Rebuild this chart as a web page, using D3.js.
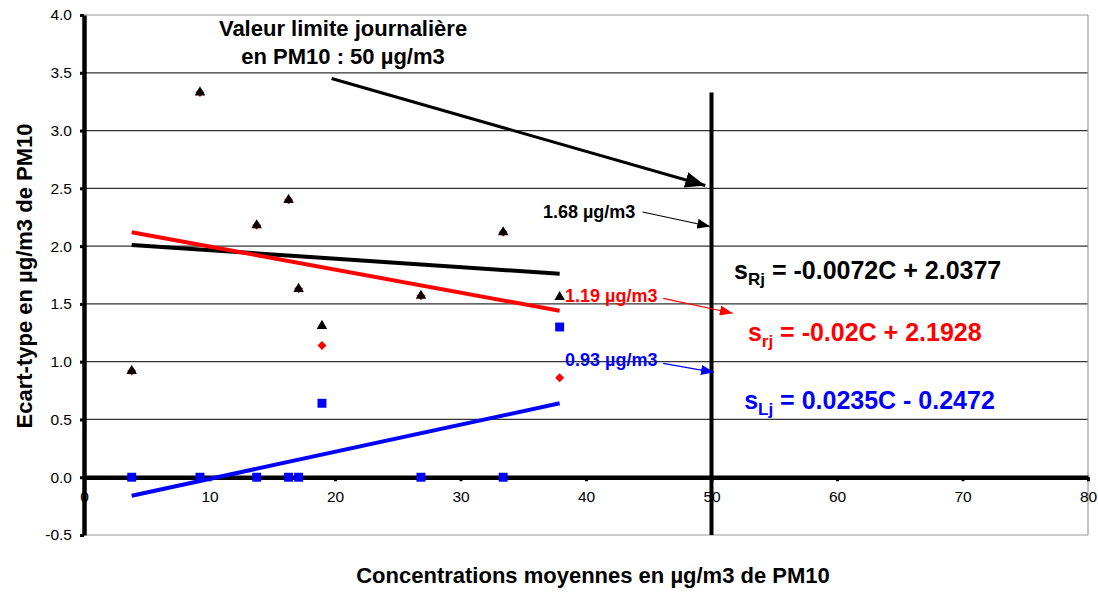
<!DOCTYPE html>
<meta charset="utf-8">
<script src="https://d3js.org/d3.v7.min.js"></script>
<style>
  body { margin: 0; background: #fff; }
  text { font-family: Arial, "Liberation Sans", sans-serif; }
</style>
<svg id="chart" width="1098" height="592"></svg>
<script>

// mean concentration (x) for each site
var conc = [3.8, 9.24, 13.76, 16.3, 17.1, 18.96, 26.85, 33.4, 37.9];
// sRj (black triangles), srj (red diamonds), sLj (blue squares)
var sRj = [0.92, 3.33, 2.18, 2.40, 1.63, 1.31, 1.57, 2.12, 1.56];
var srj = [0.92, 3.33, 2.18, 2.40, 1.63, 1.14, 1.57, 2.12, 0.86];
var sLj = [0, 0, 0, 0, 0, 0.64, 0, 0, 1.30];

// trend line ends (x from 3.8 to 37.9)
var trendX = [3.8, 37.9];
var trendR = [2.01, 1.76];
var trendr = [2.12, 1.44];
var trendL = [-0.16, 0.64];

var xTicks = [0, 10, 20, 30, 40, 50, 60, 70, 80];
var yTicks = [-0.5, 0, 0.5, 1.0, 1.5, 2.0, 2.5, 3.0, 3.5, 4.0];

var svg = d3.select("#chart");

var x = d3.scaleLinear().domain([0, 80]).range([84, 1088]);
var y = d3.scaleLinear().domain([-0.5, 4]).range([535, 15]);

// arrow heads
var defs = svg.append("defs");
function arrowHead(id, color, len, wid) {
  defs.append("marker")
    .attr("id", id)
    .attr("markerUnits", "userSpaceOnUse")
    .attr("viewBox", "0 0 " + len + " " + wid)
    .attr("refX", len).attr("refY", wid / 2)
    .attr("markerWidth", len).attr("markerHeight", wid)
    .attr("orient", "auto")
    .append("path")
      .attr("d", "M0,0 L" + len + "," + (wid / 2) + " L0," + wid + " Z")
      .attr("fill", color);
}
arrowHead("bigBlack", "#000", 20, 16);
arrowHead("black", "#000", 13, 10);
arrowHead("red", "#ff0000", 13, 10);
arrowHead("blue", "#0000ff", 13, 10);

// grid lines
svg.append("g")
  .selectAll("line")
  .data(yTicks.filter(function(d) { return d !== 0; }))
  .enter()
  .append("line")
    .attr("x1", x(0)).attr("x2", x(80))
    .attr("y1", function(d) { return y(d); })
    .attr("y2", function(d) { return y(d); })
    .attr("stroke", function(d) { return (d === 4 || d === -0.5) ? "#999" : "#333"; })
    .attr("stroke-width", 1.2);

// right border
svg.append("line")
  .attr("x1", x(80)).attr("x2", x(80))
  .attr("y1", y(4)).attr("y2", y(-0.5))
  .attr("stroke", "#999").attr("stroke-width", 1.2);

// x axis on the 0 line
var xAxis = svg.append("g")
  .attr("transform", "translate(0," + y(0) + ")")
  .call(d3.axisBottom(x).tickValues(xTicks).tickSize(4).tickSizeOuter(0).tickPadding(10));
xAxis.select(".domain").attr("stroke", "#000").attr("stroke-width", 4.5);
xAxis.selectAll(".tick line").attr("stroke", "#000").attr("stroke-width", 3);
xAxis.selectAll(".tick text")
  .attr("font-size", 15.5).attr("font-family", "Arial, 'Liberation Sans', sans-serif").attr("fill", "#000");

// y axis (plain hyphen for the minus sign, as in Excel)
var yAxis = svg.append("g")
  .attr("transform", "translate(" + x(0) + ",0)")
  .call(d3.axisLeft(y).tickValues(yTicks)
    .tickFormat(function(d) { return d.toFixed(1); })
    .tickSize(4).tickSizeOuter(0).tickPadding(8));
yAxis.select(".domain").attr("stroke", "#000").attr("stroke-width", 4.5);
yAxis.selectAll(".tick line").attr("stroke", "#000").attr("stroke-width", 3);
yAxis.selectAll(".tick text")
  .attr("font-size", 15.5).attr("font-family", "Arial, 'Liberation Sans', sans-serif").attr("fill", "#000");

// axis titles
svg.append("text")
  .attr("x", 593).attr("y", 583)
  .attr("text-anchor", "middle")
  .attr("font-size", 22).attr("font-weight", "bold")
  .text("Concentrations moyennes en µg/m3 de PM10");

svg.append("text")
  .attr("transform", "translate(32,276) rotate(-90)")
  .attr("text-anchor", "middle")
  .attr("font-size", 22).attr("font-weight", "bold")
  .text("Ecart-type en µg/m3 de PM10");

// limit value line at 50 µg/m3
svg.append("line")
  .attr("x1", x(50)).attr("x2", x(50))
  .attr("y1", y(3.33)).attr("y2", y(-0.5))
  .attr("stroke", "#000").attr("stroke-width", 4);

// trend lines
var line = d3.line()
  .x(function(d) { return x(d[0]); })
  .y(function(d) { return y(d[1]); });

[[trendR, "#000"], [trendr, "#ff0000"], [trendL, "#0000ff"]].forEach(function(t) {
  svg.append("path")
    .datum(trendX.map(function(v, i) { return [v, t[0][i]]; }))
    .attr("d", line)
    .attr("fill", "none")
    .attr("stroke", t[1])
    .attr("stroke-width", 4);
});

// markers
function drawSeries(values, symbol, size, color, rot) {
  svg.append("g")
    .selectAll("path")
    .data(conc.map(function(c, i) { return [c, values[i]]; }))
    .enter()
    .append("path")
      .attr("transform", function(d) {
        return "translate(" + x(d[0]) + "," + y(d[1]) + ") rotate(" + rot + ")";
      })
      .attr("d", d3.symbol().type(symbol).size(size))
      .attr("fill", color);
}
drawSeries(srj, d3.symbolSquare, 40, "#ff0000", 45);
drawSeries(sRj, d3.symbolTriangle, 48, "#000", 0);
drawSeries(sLj, d3.symbolSquare, 80, "#0000ff", 0);

// annotation : limit value
svg.append("text")
  .attr("x", x(20.64)).attr("y", y(3.815))
  .attr("text-anchor", "middle")
  .attr("font-size", 22).attr("font-weight", "bold")
  .text("Valeur limite journalière");
svg.append("text")
  .attr("x", x(20.64)).attr("y", y(3.573))
  .attr("text-anchor", "middle")
  .attr("font-size", 22).attr("font-weight", "bold")
  .text("en PM10 : 50 µg/m3");
svg.append("line")
  .attr("x1", x(19.73)).attr("y1", y(3.45))
  .attr("x2", x(49.5)).attr("y2", y(2.525))
  .attr("stroke", "#000").attr("stroke-width", 3)
  .attr("marker-end", "url(#bigBlack)");

// value labels with arrows to the 50 line
var labels = [
  { text: "1.68 µg/m3", color: "#000", marker: "black", tx: 36.57, ty: 2.24, x1: 44.5, y1: 2.295, x2: 49.9, y2: 2.17 },
  { text: "1.19 µg/m3", color: "#ff0000", marker: "red", tx: 38.33, ty: 1.514, x1: 46.15, y1: 1.548, x2: 51.7, y2: 1.419 },
  { text: "0.93 µg/m3", color: "#0000ff", marker: "blue", tx: 38.33, ty: 0.96, x1: 46.15, y1: 0.986, x2: 50.2, y2: 0.908 }
];
labels.forEach(function(l) {
  svg.append("text")
    .attr("x", x(l.tx)).attr("y", y(l.ty))
    .attr("font-size", 18).attr("font-weight", "bold")
    .attr("fill", l.color)
    .text(l.text);
  svg.append("line")
    .attr("x1", x(l.x1)).attr("y1", y(l.y1))
    .attr("x2", x(l.x2)).attr("y2", y(l.y2))
    .attr("stroke", l.color).attr("stroke-width", 1.2)
    .attr("marker-end", "url(#" + l.marker + ")");
});

// regression equations
var equations = [
  { sub: "Rj", rest: " = -0.0072C + 2.0377", color: "#000", tx: 51.8, ty: 1.713 },
  { sub: "rj", rest: " = -0.02C + 2.1928", color: "#ff0000", tx: 52.9, ty: 1.176 },
  { sub: "Lj", rest: " = 0.0235C - 0.2472", color: "#0000ff", tx: 52.6, ty: 0.588 }
];
equations.forEach(function(e) {
  var t = svg.append("text")
    .attr("x", x(e.tx)).attr("y", y(e.ty))
    .attr("font-size", 25).attr("font-weight", "bold")
    .attr("fill", e.color);
  t.append("tspan").text("s");
  t.append("tspan").attr("font-size", 17).attr("dy", 6).text(e.sub);
  t.append("tspan").attr("dy", -6).text(e.rest);
});

</script>
